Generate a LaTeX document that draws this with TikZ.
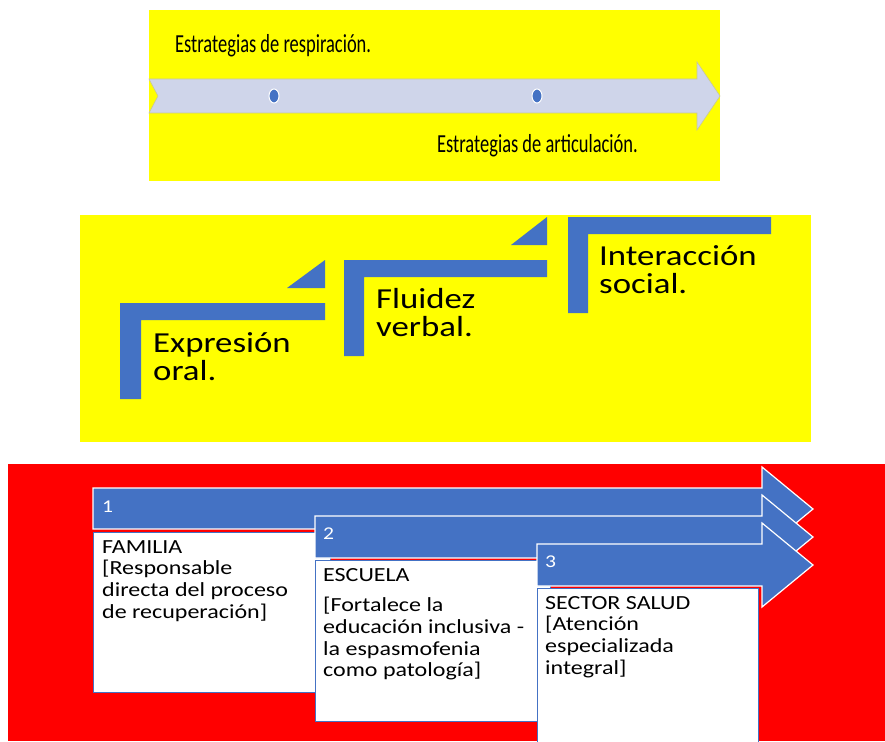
\documentclass[tikz,border=0pt]{standalone}
\usepackage{fontspec}
\setmainfont{Carlito}
\usetikzlibrary{shapes.geometric}
\definecolor{ylw}{HTML}{FFFF00}
\definecolor{blu}{HTML}{4472C4}
\definecolor{lav}{HTML}{CFD5EA}
\definecolor{rd}{HTML}{FF0000}
\definecolor{edg}{HTML}{C8C896}
\newcommand{\narrowtxt}[1]{\scalebox{0.71}[1]{\fontsize{26}{30}\selectfont #1}}
\newcommand{\stepbig}[1]{\scalebox{1.2}[1]{\parbox[t]{150pt}{\fontsize{29}{28.5}\selectfont #1}}}
\newcommand{\boxtxt}[1]{\scalebox{1.2}[1]{\parbox[t]{175pt}{\fontsize{20}{21.7}\selectfont #1}}}
\begin{document}
\begin{tikzpicture}[x=1pt,y=-1pt,
  lbl/.style={inner sep=0pt, anchor=base west},
  stepshape/.style={fill=blu},
  bigarrow/.style={fill=blu, draw=white, line width=1.2pt},
  infobox/.style={fill=white, draw=blu, line width=0.8pt}]
\useasboundingbox (0,0) rectangle (885,741);
\fill[white] (0,0) rectangle (885,741);

% ---------- panel 1 ----------
\fill[ylw] (149,10) rectangle (720,181);
\filldraw[fill=lav, draw=edg, line width=0.6pt]
  (149,79) -- (697,79) -- (697,62) -- (720,96) -- (697,130) -- (697,113) -- (149,113) -- (158,96) -- cycle;
\filldraw[fill=blu, draw=white, line width=1pt] (274,96) ellipse [x radius=5, y radius=7];
\filldraw[fill=blu, draw=white, line width=1pt] (537,96) ellipse [x radius=5, y radius=7];
\node[lbl] (resp) at (175,53) {\narrowtxt{Estrategias de respiración.}};
\node[lbl] (artic) at (437,152) {\narrowtxt{Estrategias de articulación.}};

% ---------- panel 2 ----------
\fill[ylw] (80,215) rectangle (811,442);
\fill[stepshape] (120,303) -- (325,303) -- (325,320) -- (141,320) -- (141,399) -- (120,399) -- cycle;
\fill[stepshape] (325,260) -- (325,288) -- (287,288) -- cycle;
\fill[stepshape] (344,260) -- (547,260) -- (547,277) -- (364,277) -- (364,356) -- (344,356) -- cycle;
\fill[stepshape] (547,217) -- (547,245) -- (511,245) -- cycle;
\fill[stepshape] (568,217) -- (771,217) -- (771,234) -- (588,234) -- (588,313) -- (568,313) -- cycle;
\node[lbl] (expr) at (153,352) {\stepbig{Expresión\par oral.}};
\node[lbl] (flui) at (376,308) {\stepbig{Fluidez\par verbal.}};
\node[lbl] (inter) at (599,265) {\stepbig{Interacción\par social.}};

% ---------- panel 3 ----------
\fill[rd] (8,464) rectangle (885,741);
\filldraw[bigarrow] (93,488) -- (762,488) -- (762,467) -- (813,509) -- (762,551) -- (762,529) -- (93,529) -- cycle;
\filldraw[infobox] (93,532) rectangle (330,692);
\filldraw[bigarrow] (315,516) -- (762,516) -- (762,495) -- (813,537) -- (762,579) -- (762,558) -- (315,558) -- cycle;
\filldraw[infobox] (315,560) rectangle (550,721);
\filldraw[bigarrow] (537,544) -- (762,544) -- (762,523) -- (813,565) -- (762,607) -- (762,586) -- (537,586) -- cycle;
\filldraw[infobox] (537,588) rectangle (758,748);

\node[lbl, text=white] (n1) at (102,512) {\scalebox{1.2}[1]{\fontsize{18}{20}\selectfont 1}};
\node[lbl, text=white] (n2) at (323,539) {\scalebox{1.2}[1]{\fontsize{18}{20}\selectfont 2}};
\node[lbl, text=white] (n3) at (545,567) {\scalebox{1.2}[1]{\fontsize{18}{20}\selectfont 3}};

\node[lbl] (fam) at (102,553) {\boxtxt{FAMILIA\par [Responsable\par directa del proceso\par de recuperación]}};
\node[lbl] (esc) at (323,581) {\boxtxt{ESCUELA\par\vspace{9pt}[Fortalece la\par educación inclusiva -\par la espasmofenia\par como patología]}};
\node[lbl] (sal) at (545,609) {\boxtxt{SECTOR SALUD\par [Atención\par especializada\par integral]}};
\end{tikzpicture}
\end{document}
